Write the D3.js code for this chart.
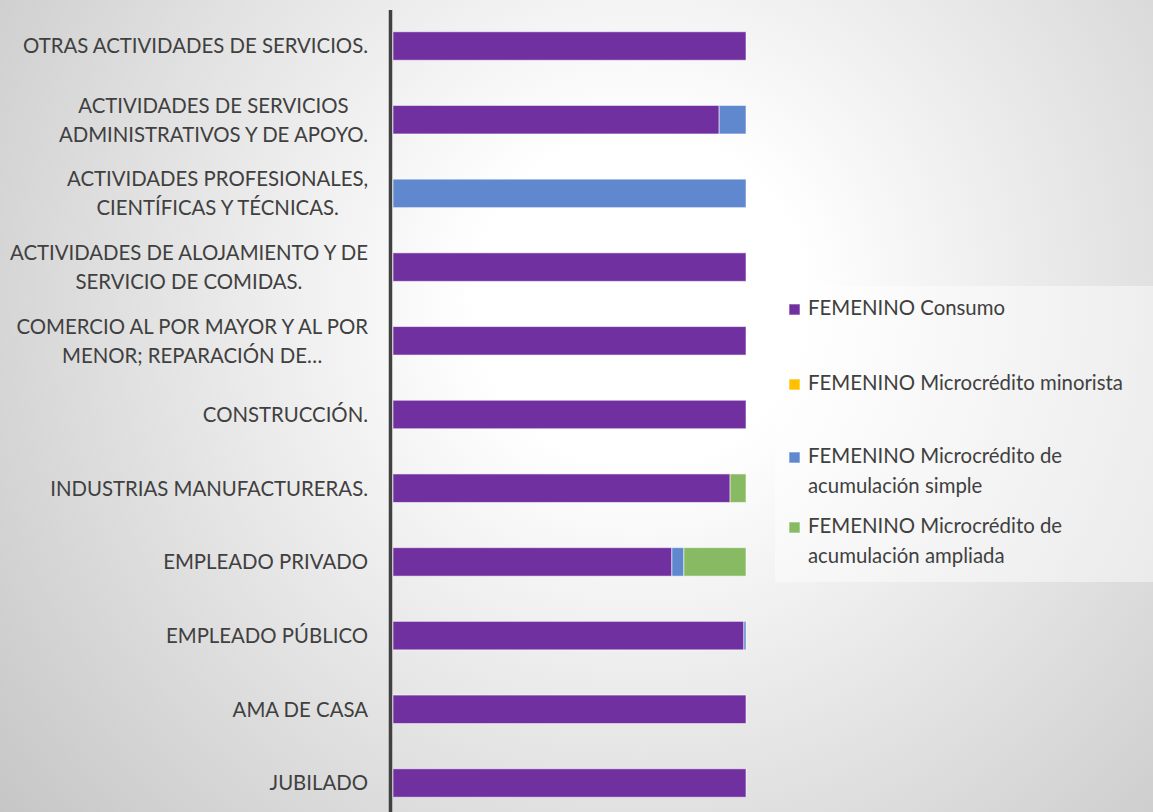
<!DOCTYPE html>
<html><head><meta charset="utf-8">
<script src="https://cdn.jsdelivr.net/npm/d3@7"></script>
<style>html,body{margin:0;padding:0;overflow:hidden;}svg{display:block;}</style>
</head><body>
<svg id="chart" width="1153" height="812"></svg>
<script>
const categories = [
  "OTRAS ACTIVIDADES DE SERVICIOS.",
  "ACTIVIDADES DE SERVICIOS\nADMINISTRATIVOS Y DE APOYO.",
  "ACTIVIDADES PROFESIONALES,\nCIENTÍFICAS Y TÉCNICAS.",
  "ACTIVIDADES DE ALOJAMIENTO Y DE\nSERVICIO DE COMIDAS.",
  "COMERCIO AL POR MAYOR Y AL POR\nMENOR; REPARACIÓN DE…",
  "CONSTRUCCIÓN.",
  "INDUSTRIAS MANUFACTURERAS.",
  "EMPLEADO PRIVADO",
  "EMPLEADO PÚBLICO",
  "AMA DE CASA",
  "JUBILADO"
];
const seriesNames = [
  "FEMENINO Consumo",
  "FEMENINO Microcrédito minorista",
  "FEMENINO Microcrédito de\nacumulación simple",
  "FEMENINO Microcrédito de\nacumulación ampliada"
];
const consumo    = [1.000, 0.924, 0.000, 1.000, 1.000, 1.000, 0.955, 0.790, 0.994, 1.000, 1.000];
const minorista  = [0, 0, 0, 0, 0, 0, 0, 0, 0, 0, 0];
const simple     = [0.000, 0.076, 1.000, 0.000, 0.000, 0.000, 0.000, 0.034, 0.006, 0.000, 0.000];
const ampliada   = [0.000, 0.000, 0.000, 0.000, 0.000, 0.000, 0.045, 0.176, 0.000, 0.000, 0.000];
const colors = ["#7030A0", "#FFC000", "#5F88CF", "#88BA63"];

const W = 1153, H = 812;
const svg = d3.select("#chart");
const FONT = "Lato, 'Open Sans', sans-serif";
const TXT = "#404040";

// background radial gradient
const defs = svg.append("defs");
const rg = defs.append("radialGradient").attr("id", "bg")
  .attr("gradientUnits", "userSpaceOnUse")
  .attr("cx", 640).attr("cy", 300).attr("r", 820);
rg.append("stop").attr("offset", 0).attr("stop-color", "#ffffff");
rg.append("stop").attr("offset", 0.2).attr("stop-color", "#ffffff");
rg.append("stop").attr("offset", 1).attr("stop-color", "#c6c6c6");
svg.append("rect").attr("width", W).attr("height", H).attr("fill", "url(#bg)");

// font size fitting
const probe = svg.append("text").attr("font-family", FONT).attr("font-size", 20).text(categories[0]);
const fs = 20 * 345 / probe.node().getComputedTextLength();
probe.remove();

const data = categories.map((c, i) => ({cat: c, s0: consumo[i], s1: minorista[i], s2: simple[i], s3: ampliada[i]}));
const keys = ["s0", "s1", "s2", "s3"];
const stack = d3.stack().keys(keys)(data);

const step = 73.7;
const y = d3.scaleBand().domain(categories)
  .range([46 - step / 2, 46 - step / 2 + step * categories.length])
  .paddingInner(1 - 28.5 / step).paddingOuter((1 - 28.5 / step) / 2);
const x = d3.scaleLinear().domain([0, 1]).range([393, 746]);

// bars
stack.forEach((layer, k) => {
  svg.append("g").selectAll("rect").data(layer.filter(d => d[1] - d[0] > 0)).join("rect")
    .attr("x", d => x(d[0]))
    .attr("width", d => x(d[1]) - x(d[0]))
    .attr("y", d => y(d.data.cat))
    .attr("height", y.bandwidth())
    .attr("fill", colors[k])
    .attr("stroke", "rgba(255,255,255,0.55)")
    .attr("stroke-width", 1);
});

// axis line
const axis = svg.append("g").attr("transform", "translate(390.5,0)")
  .call(d3.axisLeft(y).tickSize(0).tickFormat(""));
axis.select(".domain").attr("d", "M0,10V" + H).attr("stroke", "#404040").attr("stroke-width", 3.5);

// category labels
const lineH = 29;
const labelRight = 368;
const lg = svg.append("g").attr("font-family", FONT).attr("font-size", fs).attr("fill", TXT);
categories.forEach(c => {
  const lines = c.split("\n");
  const cy = y(c) + y.bandwidth() / 2;
  const t = lg.append("text").attr("text-anchor", "middle");
  lines.forEach((l, j) => {
    t.append("tspan").text(l);
  });
  // measure widest
  const widths = [];
  t.selectAll("tspan").each(function () { widths.push(this.getComputedTextLength()); });
  const wmax = d3.max(widths);
  const cx = labelRight - wmax / 2;
  t.selectAll("tspan")
    .attr("x", cx)
    .attr("y", (d, j) => cy + (j - (lines.length - 1) / 2) * lineH)
    .attr("dy", "0.36em");
});

// legend
const legX = 775, legY = 286, legW = 380, legH = 296;
svg.append("rect").attr("x", legX).attr("y", legY).attr("width", legW).attr("height", legH)
  .attr("fill", "rgba(255,255,255,0.45)");
const legTops = [315, 390, 463, 533];
const leg = svg.append("g").attr("font-family", FONT).attr("font-size", fs).attr("fill", TXT);
seriesNames.forEach((n, i) => {
  const base = legTops[i];
  leg.append("rect").attr("x", 789).attr("y", base - 11).attr("width", 11).attr("height", 11)
    .attr("fill", colors[i]).attr("stroke", "rgba(255,255,255,0.6)").attr("stroke-width", 1);
  const t = leg.append("text");
  n.split("\n").forEach((l, j) => {
    t.append("tspan").attr("x", 808).attr("y", base + j * 30).text(l);
  });
});
</script>
</body></html>
